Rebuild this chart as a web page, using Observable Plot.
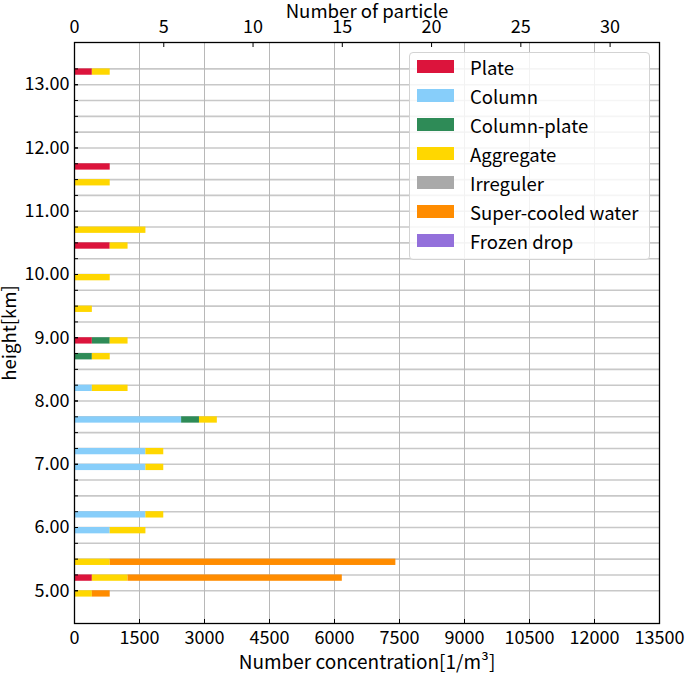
<!DOCTYPE html>
<html><head><meta charset="utf-8">
<script src="https://cdn.jsdelivr.net/npm/d3@7"></script>
<script src="https://cdn.jsdelivr.net/npm/@observablehq/plot@0.6"></script>
<style>
body{margin:0;background:#fff;font-family:"Noto Sans CJK JP","Noto Sans",sans-serif;}
#wrap{position:relative;width:685px;height:673px;}
#legend{position:absolute;left:409px;top:52px;width:241px;height:208px;box-sizing:border-box;border:1px solid #d3d3d3;border-radius:4px;background:rgba(255,255,255,0.82);}
.row{position:absolute;left:7px;height:29px;display:flex;align-items:center;font-size:18.5px;color:#000;white-space:nowrap;}
.sw{width:37px;height:13px;margin-right:16px;flex:none;}
</style></head><body><div id="wrap"></div>
<script>
const types = ["Plate","Column","Column-plate","Aggregate","Irreguler","Super-cooled water","Frozen drop"];
const colors = ["#dc143c","#87cefa","#2e8b57","#ffd700","#a9a9a9","#ff8c00","#9370db"];
const heights     = [13.25,11.75,11.5,10.75,10.5,10.0,9.5,9.0,8.75,8.25,7.75,7.25,7.0,6.25,6.0,5.5,5.25,5.0];
const plate       = [1,2,0,0,2,0,0,1,0,0,0,0,0,0,0,0,1,0];
const column      = [0,0,0,0,0,0,0,0,0,1,6,4,4,4,2,0,0,0];
const columnPlate = [0,0,0,0,0,0,0,1,1,0,1,0,0,0,0,0,0,0];
const aggregate   = [1,0,2,4,1,2,1,1,1,2,1,1,1,1,2,2,2,1];
const irreguler   = [0,0,0,0,0,0,0,0,0,0,0,0,0,0,0,0,0,0];
const superCooled = [0,0,0,0,0,0,0,0,0,0,0,0,0,0,0,16,12,1];
const frozenDrop  = [0,0,0,0,0,0,0,0,0,0,0,0,0,0,0,0,0,0];
const concPerParticle = 412;   // 1/m^3 per particle
const barThickness = 0.1;      // km
const xTicks = [0,1500,3000,4500,6000,7500,9000,10500,12000,13500];
const particleTicks = [0,5,10,15,20,25,30];
const yLabelTicks = [5,6,7,8,9,10,11,12,13];
const yGrid = d3.range(5, 13.26, 0.25);

const series = [plate, column, columnPlate, aggregate, irreguler, superCooled, frozenDrop];
const rows = [];
heights.forEach((h, i) => types.forEach((t, j) => rows.push({height: h, type: t, count: series[j][i]})));

const chart = Plot.plot({
  width: 685, height: 673,
  marginLeft: 74, marginRight: 26, marginTop: 42, marginBottom: 50,
  style: {fontFamily: '"Noto Sans CJK JP","Noto Sans",sans-serif', fontSize: "18px", color: "#000", background: "#fff"},
  x: {domain: [0, 13500]},
  y: {domain: [4.4825, 13.6675]},
  color: {domain: types, range: colors},
  marks: [
    Plot.gridY(yGrid, {stroke: "#c8c8c8", strokeOpacity: 1, strokeWidth: 1.6}),
    Plot.gridX(xTicks, {stroke: "#b8b8b8", strokeOpacity: 1, strokeWidth: 1}),
    Plot.rectX(rows, {x: d => d.count * concPerParticle, y1: d => d.height - barThickness, y2: "height", fill: "type", order: types}),
    Plot.frame({stroke: "#000", strokeWidth: 1.3}),
    Plot.axisX(xTicks, {anchor: "bottom", tickSize: -4, tickPadding: 12, fontSize: 18, tickFormat: d3.format("d"), label: null}),
    Plot.axisX(particleTicks.map(v => v * concPerParticle), {anchor: "top", tickSize: -4, tickPadding: 14, fontSize: 18, tickFormat: d => String(Math.round(d / concPerParticle)), label: null}),
    Plot.axisY(yLabelTicks, {anchor: "left", tickSize: -4, tickPadding: 9, fontSize: 18, tickFormat: d3.format(".2f"), label: null}),
    Plot.axisY(yGrid, {anchor: "left", tickSize: -4, tickFormat: () => "", label: null}),
    Plot.axisX([], {anchor: "bottom", tickSize: 0, fontSize: 19, label: "Number concentration[1/m³]", labelAnchor: "center", labelArrow: false, labelOffset: 45}),
    Plot.axisX([], {anchor: "top", tickSize: 0, fontSize: 18.6, label: "Number of particle", labelAnchor: "center", labelArrow: false, labelOffset: 38}),
    Plot.axisY([], {anchor: "left", tickSize: 0, fontSize: 18.6, label: "height[km]", labelAnchor: "center", labelArrow: false, labelOffset: 72})
  ]
});
const wrap = document.getElementById("wrap");
wrap.appendChild(chart);
const lg = document.createElement("div");
lg.id = "legend";
types.forEach((t, i) => {
  const r = document.createElement("div");
  r.className = "row";
  r.style.top = (-1 + i * 29) + "px";
  r.innerHTML = `<div class="sw" style="background:${colors[i]}"></div><span>${t}</span>`;
  lg.appendChild(r);
});
wrap.appendChild(lg);
</script></body></html>
